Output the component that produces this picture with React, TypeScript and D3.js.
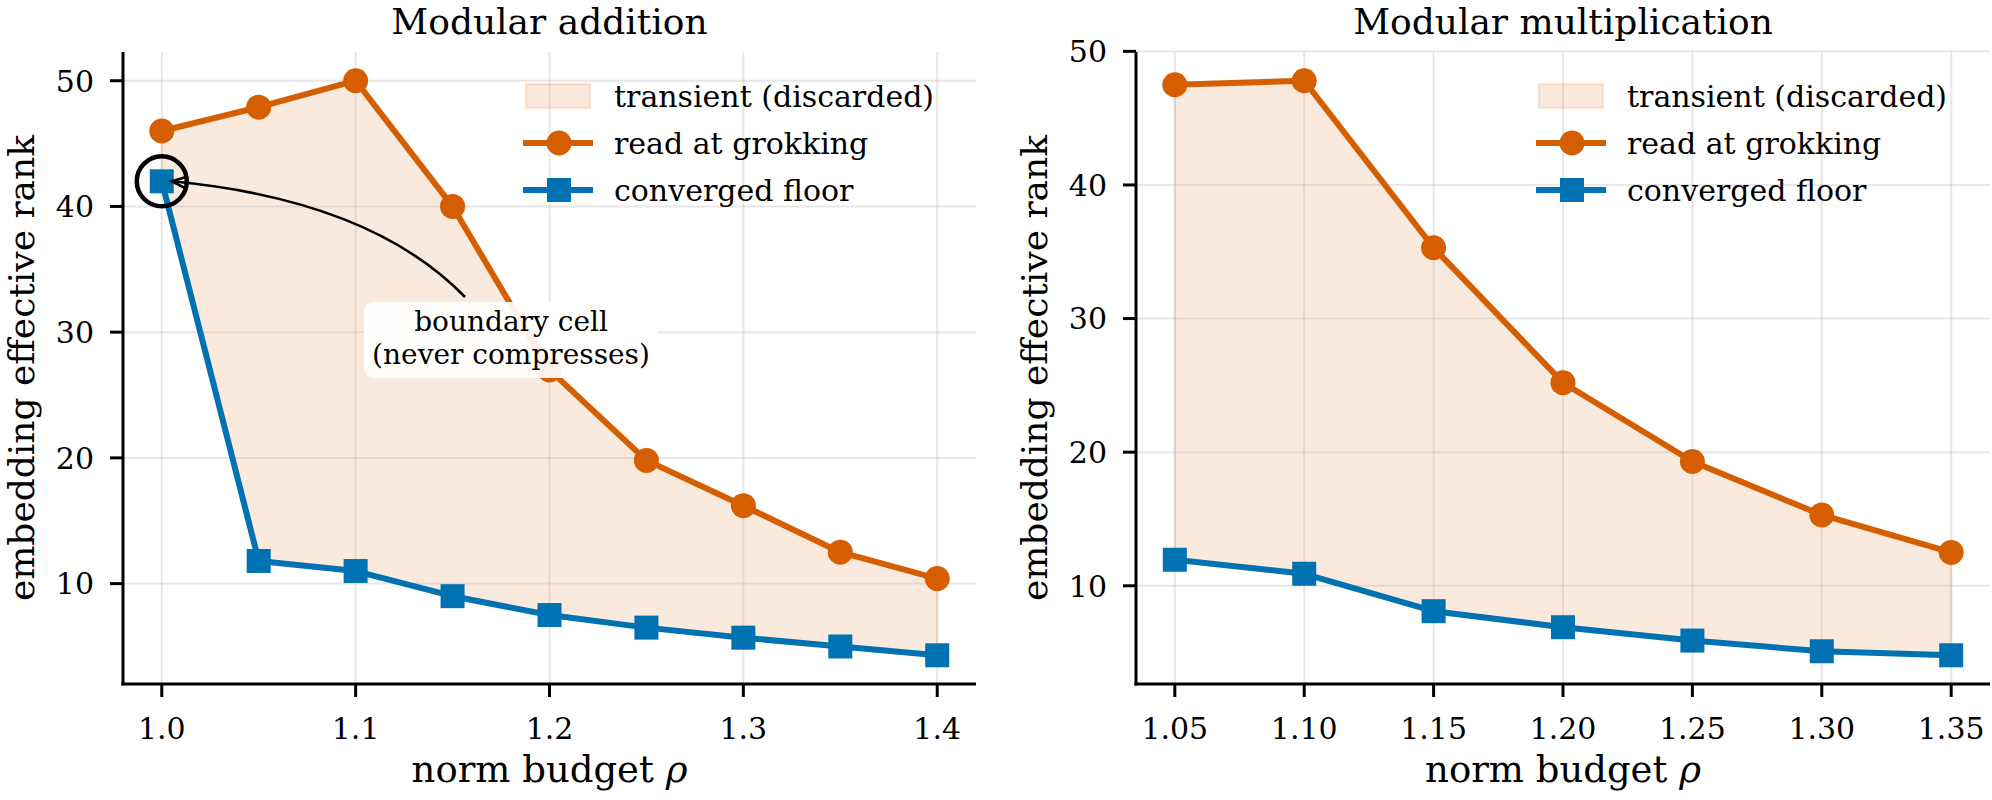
import * as d3 from 'd3';

// budgets swept in each task
const addRho = [1.0, 1.05, 1.1, 1.15, 1.2, 1.25, 1.3, 1.35, 1.4];
const addGrok = [46.0, 47.9, 50.0, 40.0, 27.0, 19.8, 16.2, 12.5, 10.4];
const addFloor = [42.0, 11.8, 11.0, 9.0, 7.5, 6.5, 5.7, 5.0, 4.3];

const mulRho = [1.05, 1.1, 1.15, 1.2, 1.25, 1.3, 1.35];
const mulGrok = [47.5, 47.8, 35.3, 25.2, 19.3, 15.3, 12.5];
const mulFloor = [11.95, 10.9, 8.1, 6.9, 5.9, 5.1, 4.8];

const addTicks = [1.0, 1.1, 1.2, 1.3, 1.4];
const mulTicks = [1.05, 1.1, 1.15, 1.2, 1.25, 1.3, 1.35];
const rankTicks = [10, 20, 30, 40, 50];

const legendLabels = ['transient (discarded)', 'read at grokking', 'converged floor'];

const ORANGE = '#D55E00';
const BLUE = '#0072B2';
const FONT = '"DejaVu Serif", serif';

const W = 1992;
const H = 800;

type PanelProps = {
  title: string;
  rho: number[];
  grok: number[];
  floor: number[];
  ticks: number[];
  tickFmt: string;
  left: number;
  right: number;
  legendX: number;
  boundary?: boolean;
};

function pad(lo: number, hi: number): [number, number] {
  const m = (hi - lo) * 0.05;
  return [lo - m, hi + m];
}

function Panel({ title, rho, grok, floor, ticks, tickFmt, left, right, legendX, boundary }: PanelProps) {
  const top = 52;
  const bottom = 684;
  const x = d3.scaleLinear().domain(pad(d3.min(rho)!, d3.max(rho)!)).range([left, right]);
  const y = d3
    .scaleLinear()
    .domain(pad(d3.min(floor)!, d3.max(grok)!))
    .range([bottom, top]);
  const fmt = d3.format(tickFmt);

  const idx = rho.map((_, i) => i);
  const band = d3
    .area<number>()
    .x((i) => x(rho[i]))
    .y0((i) => y(floor[i]))
    .y1((i) => y(grok[i]));
  const line = (vals: number[]) =>
    d3
      .line<number>()
      .x((i) => x(rho[i]))
      .y((i) => y(vals[i]))(idx)!;

  const cx = (left + right) / 2;
  const cy = (top + bottom) / 2;
  const sq = 24;

  // boundary cell callout: curved arrow from the note to the first floor point
  let callout = null;
  if (boundary) {
    const px = x(rho[0]);
    const py = y(floor[0]);
    const sx = 465;
    const sy = 297;
    const ex = px + 10;
    const ey = py;
    const c1x = 371;
    const c1y = 200;
    const ang = Math.atan2(ey - c1y, ex - c1x);
    const hl = 14;
    const hw = 0.38;
    callout = (
      <g>
        <circle cx={px} cy={py} r={25} fill="none" stroke="#000" strokeWidth={4.5} />
        <path d={`M${sx},${sy}Q${c1x},${c1y} ${ex},${ey}`} fill="none" stroke="#000" strokeWidth={2.6} />
        <path
          d={`M${ex - hl * Math.cos(ang - hw)},${ey - hl * Math.sin(ang - hw)}L${ex},${ey}L${ex - hl * Math.cos(ang + hw)},${ey - hl * Math.sin(ang + hw)}`}
          fill="none"
          stroke="#000"
          strokeWidth={2.6}
        />
        <rect x={364} y={302} width={293} height={76} rx={9} fill="#fff" fillOpacity={0.92} />
        <text x={511} y={331} textAnchor="middle" fontSize={28} fontFamily={FONT}>
          boundary cell
        </text>
        <text x={511} y={364} textAnchor="middle" fontSize={28} fontFamily={FONT}>
          (never compresses)
        </text>
      </g>
    );
  }

  const rowY = [96, 143, 190];

  return (
    <g>
      <text x={cx} y={34} textAnchor="middle" fontSize={36} fontFamily={FONT}>
        {title}
      </text>

      <path d={band(idx)!} fill={ORANGE} fillOpacity={0.13} stroke={ORANGE} strokeOpacity={0.13} strokeWidth={2.5} />

      {/* grid */}
      <g stroke="#b0b0b0" strokeOpacity={0.3} strokeWidth={2}>
        {ticks.map((t) => (
          <line key={`gx${t}`} x1={x(t)} x2={x(t)} y1={top} y2={bottom} />
        ))}
        {rankTicks.map((t) => (
          <line key={`gy${t}`} x1={left} x2={right} y1={y(t)} y2={y(t)} />
        ))}
      </g>

      <path d={line(floor)} fill="none" stroke={BLUE} strokeWidth={6} strokeLinejoin="round" />
      <path d={line(grok)} fill="none" stroke={ORANGE} strokeWidth={6} strokeLinejoin="round" />
      {idx.map((i) => (
        <circle key={`o${i}`} cx={x(rho[i])} cy={y(grok[i])} r={12.5} fill={ORANGE} />
      ))}
      {idx.map((i) => (
        <rect key={`b${i}`} x={x(rho[i]) - sq / 2} y={y(floor[i]) - sq / 2} width={sq} height={sq} fill={BLUE} />
      ))}

      {callout}

      {/* legend */}
      <g fontSize={30} fontFamily={FONT}>
        <rect x={legendX} y={rowY[0] - 12} width={64} height={24} fill={ORANGE} fillOpacity={0.13} stroke={ORANGE} strokeOpacity={0.13} strokeWidth={2.5} />
        <line x1={legendX - 3} x2={legendX + 67} y1={rowY[1]} y2={rowY[1]} stroke={ORANGE} strokeWidth={6} />
        <circle cx={legendX + 33} cy={rowY[1]} r={12.5} fill={ORANGE} />
        <line x1={legendX - 3} x2={legendX + 67} y1={rowY[2]} y2={rowY[2]} stroke={BLUE} strokeWidth={6} />
        <rect x={legendX + 33 - sq / 2} y={rowY[2] - sq / 2} width={sq} height={sq} fill={BLUE} />
        {legendLabels.map((l, i) => (
          <text key={l} x={legendX + 88} y={rowY[i]} dy="0.35em">
            {l}
          </text>
        ))}
      </g>

      {/* spines and ticks */}
      <g stroke="#000" strokeWidth={3}>
        <line x1={left} x2={left} y1={top} y2={bottom + 1.5} />
        <line x1={left - 1.5} x2={right} y1={bottom} y2={bottom} />
        {ticks.map((t) => (
          <line key={`tx${t}`} x1={x(t)} x2={x(t)} y1={bottom} y2={bottom + 13} />
        ))}
        {rankTicks.map((t) => (
          <line key={`ty${t}`} x1={left - 13} x2={left} y1={y(t)} y2={y(t)} />
        ))}
      </g>
      <g fontSize={30} fontFamily={FONT}>
        {ticks.map((t) => (
          <text key={`lx${t}`} x={x(t)} y={739} textAnchor="middle">
            {fmt(t)}
          </text>
        ))}
        {rankTicks.map((t) => (
          <text key={`ly${t}`} x={left - 29} y={y(t)} dy="0.36em" textAnchor="end">
            {t}
          </text>
        ))}
      </g>

      <text x={cx} y={782} textAnchor="middle" fontSize={37} fontFamily={FONT}>
        norm budget <tspan fontStyle="italic">ρ</tspan>
      </text>
      <text
        transform={`translate(${left - 89},${cy}) rotate(-90)`}
        textAnchor="middle"
        fontSize={36}
        fontFamily={FONT}
      >
        embedding effective rank
      </text>
    </g>
  );
}

export default function App() {
  return (
    <svg
      width={W}
      height={H}
      viewBox={`0 0 ${W} ${H}`}
      style={{ position: 'absolute', left: 0, top: 0, background: '#fff' }}
    >
      <rect width={W} height={H} fill="#fff" />
      <Panel
        title="Modular addition"
        rho={addRho}
        grok={addGrok}
        floor={addFloor}
        ticks={addTicks}
        tickFmt=".1f"
        left={123}
        right={976}
        legendX={526}
        boundary
      />
      <Panel
        title="Modular multiplication"
        rho={mulRho}
        grok={mulGrok}
        floor={mulFloor}
        ticks={mulTicks}
        tickFmt=".2f"
        left={1136}
        right={1990}
        legendX={1539}
      />
    </svg>
  );
}
